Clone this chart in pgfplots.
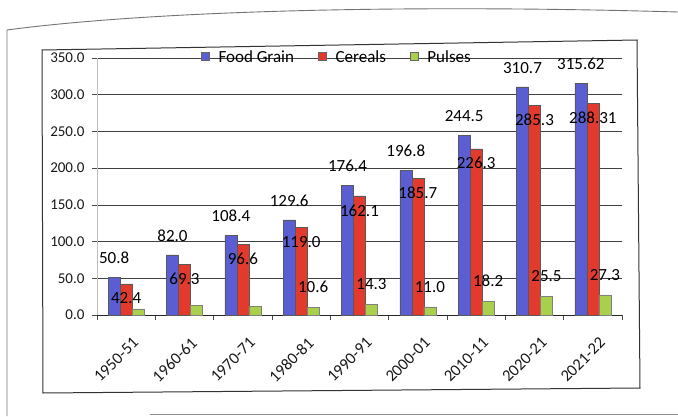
\documentclass[border=0pt]{standalone}
\usepackage{fontspec}
\setmainfont{Carlito}
\usepackage{pgfplots}
\usepackage{pgfplotstable}
\pgfplotsset{compat=1.18}

\definecolor{fg}{HTML}{5A5ED2}
\definecolor{cer}{HTML}{E23B2E}
\definecolor{pul}{HTML}{A8D04C}

\pgfplotstableread{
x fg cer pul lfg lcer lpul
0 50.8 42.4 8.4 50.8 42.4 {}
1 82.0 69.3 12.7 82.0 69.3 {}
2 108.4 96.6 11.8 108.4 96.6 {}
3 129.6 119.0 10.6 129.6 119.0 10.6
4 176.4 162.1 14.3 176.4 162.1 14.3
5 196.8 185.7 11.0 196.8 185.7 11.0
6 244.5 226.3 18.2 244.5 226.3 18.2
7 310.7 285.3 25.5 310.7 285.3 25.5
8 315.62 288.31 27.3 315.62 288.31 27.3
}\datatab

\begin{document}
\begin{tikzpicture}
\useasboundingbox (0pt,0pt) rectangle (678pt,416pt);
% photo page frame
\draw[black!55, line width=0.9pt] (7pt,0pt) -- (7pt,386pt) .. controls (150pt,405pt) and (400pt,412pt) .. (678pt,404pt);
\draw[black!45, line width=0.9pt] (150pt,1.5pt) -- (678pt,1.5pt);
% chart border
\draw[black!80, line width=1pt] (42pt,366pt) -- (637pt,376pt) -- (640pt,28pt) -- (43pt,23pt) -- cycle;
\begin{axis}[
  at={(97pt,101pt)}, anchor=south west,
  scale only axis, width=525pt, height=257pt,
  ymin=0, ymax=350, ytick={0,50,...,350},
  xmin=-0.5, xmax=8.5,
  xtick={0,...,8},
  xticklabels={1950-51,1960-61,1970-71,1980-81,1990-91,2000-01,2010-11,2020-21,2021-22},
  minor xtick={-0.5,0.5,...,8.5},
  tick align=outside,
  major tick length=5pt, minor tick length=5pt,
  x tick style={draw=none},
  minor x tick style={draw=black!70, line width=0.6pt},
  y tick style={draw=black!70, line width=0.6pt},
  axis x line*=bottom, axis y line*=left,
  x axis line style={-, black!85, line width=0.9pt},
  y axis line style={-, black!25, line width=0.5pt},
  ymajorgrids, major grid style={black!75, line width=0.6pt},
  /pgf/number format/assume math mode=true,
  yticklabel style={/pgf/number format/fixed, /pgf/number format/fixed zerofill, /pgf/number format/precision=1, xshift=-4pt},
  ticklabel style={font=\fontsize{15}{17}\selectfont, text=black!90},
  xticklabel style={font=\fontsize{16.5}{18}\selectfont, rotate=45, anchor=north east, xshift=-4pt, yshift=-12pt},
  ybar=0pt, bar width=12pt,
  point meta=explicit symbolic,
  nodes near coords,
  every node near coord/.append style={font=\fontsize{17}{19}\selectfont, text=black},
  legend columns=-1,
  legend style={draw=none, fill=none, at={(0.457,1.004)}, anchor=center,
    font=\fontsize{17}{19}\selectfont,
    /tikz/every odd column/.append style={column sep=7pt},
    /tikz/every even column/.append style={column sep=22pt}},
  legend image code/.code={\draw[#1, draw=black!60] (0pt,-3.5pt) rectangle (8pt,4.5pt);},
  clip=false,
]
\addplot[fill=fg, draw=black!65, line width=0.5pt,
  every node near coord/.append style={anchor=south, yshift=10pt}]
  table[x=x, y=fg, meta=lfg] {\datatab};
\addplot[fill=cer, draw=black!65, line width=0.5pt,
  every node near coord/.append style={anchor=north, yshift=-5pt}]
  table[x=x, y=cer, meta=lcer] {\datatab};
\addplot[fill=pul, draw=black!50, line width=0.5pt,
  every node near coord/.append style={anchor=south, yshift=11pt}]
  table[x=x, y=pul, meta=lpul] {\datatab};
\legend{Food Grain, Cereals, Pulses}
\end{axis}
\end{tikzpicture}
\end{document}
